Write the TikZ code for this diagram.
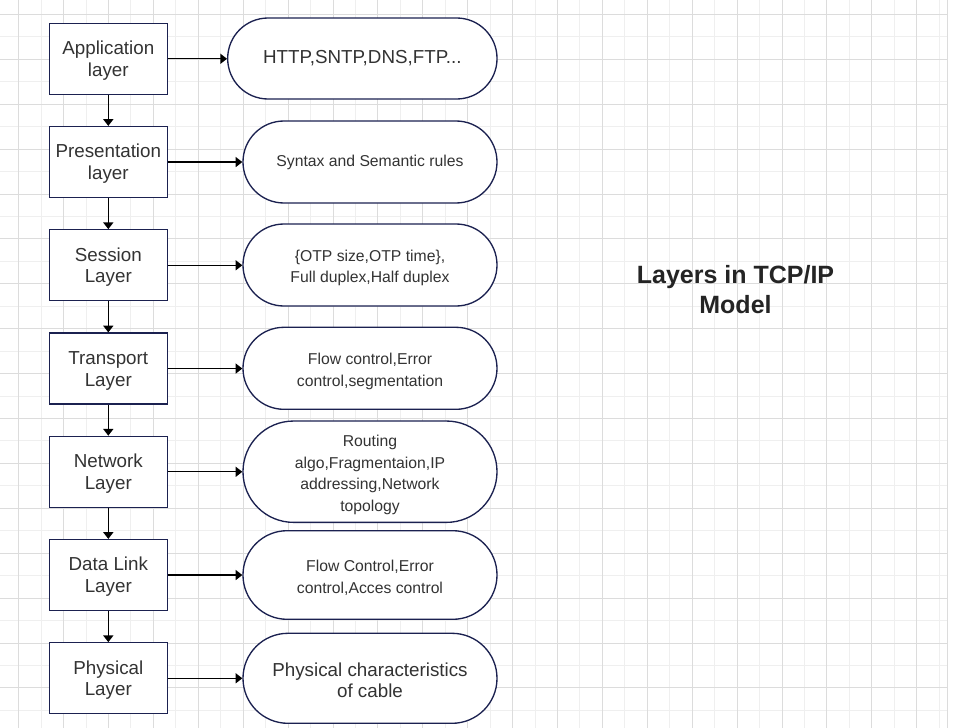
\documentclass[tikz,border=0pt]{standalone}
\usepackage{fontspec}
\setmainfont{Liberation Sans}
\usetikzlibrary{arrows.meta}
\definecolor{navy}{HTML}{1B2150}
\definecolor{txt}{HTML}{333333}
\definecolor{gmaj}{HTML}{DCDCDC}
\definecolor{gmin}{HTML}{EFEFEF}
\newcommand\fbig{\fontsize{14.1}{16.3}\selectfont}
\newcommand\fsmall{\fontsize{11.8}{16.1}\selectfont}
\newcommand\ftitle{\fontsize{18.75}{22.5}\selectfont\bfseries}
\newcommand\tstrut{\rule{0pt}{13.1pt}}
\begin{document}
\begin{tikzpicture}[x=0.75pt,y=-0.75pt,
  layerbox/.style={draw=navy,line width=1pt,fill=white,rectangle,
    minimum width=88.5pt,minimum height=53.25pt,inner sep=0pt,
    align=center,text=txt,font=\fbig},
  pill/.style={draw=navy,line width=1pt,fill=white,rectangle,
    inner sep=0pt,align=center,text=txt},
  arr/.style={draw=black,line width=1pt,-{Triangle[length=5pt,width=7.5pt]}},
  gridminor/.style={draw=gmin,line width=0.75pt},
  gridmajor/.style={draw=gmaj,line width=0.75pt}]
\useasboundingbox (0,0) rectangle (975,728);
\fill[white] (0,0) rectangle (975,728);
% grid
\foreach \k in {0,...,41} {
  \pgfmathsetmacro\xx{18.7+22.45*\k}
  \draw[gridminor] (\xx,0) -- (\xx,728);
}
\foreach \k in {0,...,31} {
  \pgfmathsetmacro\yy{14.4+22.45*\k}
  \draw[gridminor] (0,\yy) -- (947.3,\yy);
}
\foreach \k in {0,2,...,40} {
  \pgfmathsetmacro\xx{18.7+22.45*\k}
  \draw[gridmajor] (\xx,0) -- (\xx,728);
}
\foreach \k in {0,2,...,30} {
  \pgfmathsetmacro\yy{14.4+22.45*\k}
  \draw[gridmajor] (0,\yy) -- (947.3,\yy);
}
\draw[gridmajor] (947.3,0) -- (947.3,728);

% layer boxes
\node[layerbox] (b1) at (108.3,58.8)  {\tstrut Application\\layer};
\node[layerbox] (b2) at (108.3,162.05) {\tstrut Presentation\\layer};
\node[layerbox] (b3) at (108.3,265.3) {\tstrut Session\\Layer};
\node[layerbox] (b4) at (108.3,368.55) {\tstrut Transport\\Layer};
\node[layerbox] (b5) at (108.3,471.8) {\tstrut Network\\Layer};
\node[layerbox] (b6) at (108.3,575.05) {\tstrut Data Link\\Layer};
\node[layerbox] (b7) at (108.3,678.3) {\tstrut Physical\\Layer};

% pills
\node[pill,font=\fbig,minimum width=202pt,minimum height=60.75pt,rounded corners=30.3pt] (p1) at (362.35,58.5) {HTTP,SNTP,DNS,FTP...};
\node[pill,font=\fsmall,minimum width=190.5pt,minimum height=61.5pt,rounded corners=30.7pt] (p2) at (370,162) {Syntax and Semantic rules};
\node[pill,font=\fsmall,minimum width=190.5pt,minimum height=61.5pt,rounded corners=30.7pt] (p3) at (370,265) {\tstrut\{OTP size,OTP time\},\\Full duplex,Half duplex};
\node[pill,font=\fsmall,minimum width=190.5pt,minimum height=61.5pt,rounded corners=30.7pt] (p4) at (370,368.3) {\tstrut Flow control,Error\\control,segmentation};
\node[pill,font=\fsmall,minimum width=190.5pt,minimum height=76pt,rounded corners=37.9pt] (p5) at (370,471.7) {\tstrut Routing\\algo,Fragmentaion,IP\\addressing,Network\\topology};
\node[pill,font=\fsmall,minimum width=190.5pt,minimum height=66.45pt,rounded corners=33.1pt] (p6) at (370,575) {\tstrut Flow Control,Error\\control,Acces control};
\node[pill,font=\fbig,minimum width=190.5pt,minimum height=67.5pt,rounded corners=33.7pt] (p7) at (370,678.3) {\tstrut Physical characteristics\\of cable};

% title
\node[align=center,text=txt!70!black,font=\ftitle,inner sep=0pt] (title) at (735.5,289.5) {Layers in TCP/IP\\Model};

% vertical arrows
\draw[arr] (b1.south) -- (b2.north);
\draw[arr] (b2.south) -- (b3.north);
\draw[arr] (b3.south) -- (b4.north);
\draw[arr] (b4.south) -- (b5.north);
\draw[arr] (b5.south) -- (b6.north);
\draw[arr] (b6.south) -- (b7.north);

% horizontal arrows
\draw[arr] (b1.east) -- (b1.east -| p1.west);
\draw[arr] (b2.east) -- (b2.east -| p2.west);
\draw[arr] (b3.east) -- (b3.east -| p3.west);
\draw[arr] (b4.east) -- (b4.east -| p4.west);
\draw[arr] (b5.east) -- (b5.east -| p5.west);
\draw[arr] (b6.east) -- (b6.east -| p6.west);
\draw[arr] (b7.east) -- (b7.east -| p7.west);
\end{tikzpicture}
\end{document}
